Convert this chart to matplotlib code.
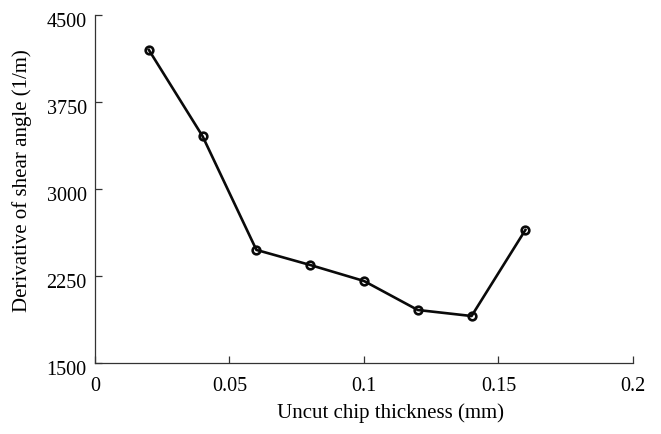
import matplotlib
matplotlib.use("Agg")
from matplotlib import pyplot as plt
import matplotlib.transforms as mtransforms

thickness = [0.02, 0.04, 0.06, 0.08, 0.10, 0.12, 0.14, 0.16]
derivative = [4200, 3455, 2475, 2345, 2207, 1957, 1905, 2647]

x_ticks = [0, 0.05, 0.1, 0.15, 0.2]
x_tick_labels = ['0', '0.05', '0.1', '0.15', '0.2']
y_ticks = [1500, 2250, 3000, 3750, 4500]

plt.rcParams['font.family'] = 'Liberation Serif'

fig = plt.figure(figsize=(6.61, 4.34), dpi=100)
ax = fig.add_axes([0.1437, 0.1636, 0.8139, 0.8018])

ax.plot(thickness, derivative, color='#0a0a0a', linewidth=1.9,
        marker='o', markersize=5.5, markerfacecolor='none',
        markeredgewidth=1.9, markeredgecolor='#0a0a0a')

ax.set_xlim(0, 0.2)
ax.set_ylim(1500, 4500)
ax.set_xticks(x_ticks)
ax.set_xticklabels(x_tick_labels)
ax.set_yticks(y_ticks)

ax.spines['top'].set_visible(False)
ax.spines['right'].set_visible(False)
for side in ['left', 'bottom']:
    ax.spines[side].set_color('#333333')
    ax.spines[side].set_linewidth(0.9)

ax.tick_params(axis='both', direction='in', length=5, width=0.9,
               color='#333333', labelsize=14.5)
ax.tick_params(axis='x', pad=10)
ax.tick_params(axis='y', pad=6)

# y tick labels sit a little below their ticks in the original
shift = mtransforms.ScaledTranslation(0, -0.05, fig.dpi_scale_trans)
for lbl in ax.get_yticklabels():
    lbl.set_transform(lbl.get_transform() + shift)

ax.set_xlabel('Uncut chip thickness (mm)', fontsize=15)
ax.set_ylabel('Derivative of shear angle (1/m)', fontsize=15)
ax.xaxis.set_label_coords(0.55, -0.115)
ax.yaxis.set_label_coords(-0.117, 0.523)

fig.savefig('out.png', dpi=100)
